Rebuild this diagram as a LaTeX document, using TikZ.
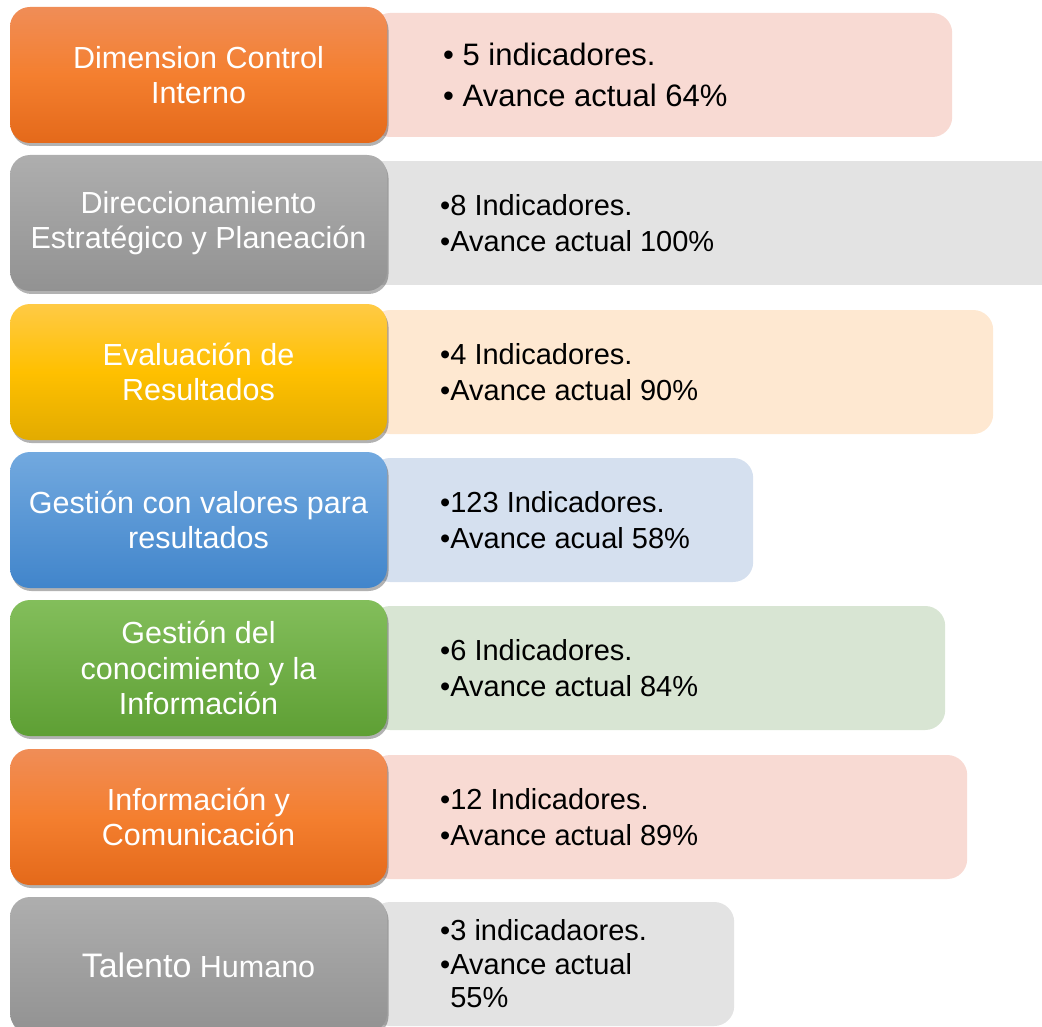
\documentclass[tikz,border=0pt]{standalone}
\usepackage{fontspec}
\setmainfont{Liberation Sans}
\usetikzlibrary{shadows,positioning}

\definecolor{naranjaA}{HTML}{F08D57}
\definecolor{naranjaB}{HTML}{F47F2F}
\definecolor{naranjaC}{HTML}{E4691A}
\definecolor{grisA}{HTML}{AEAEAE}
\definecolor{grisB}{HTML}{929292}
\definecolor{amarilloA}{HTML}{FFCA45}
\definecolor{amarilloB}{HTML}{FFC000}
\definecolor{amarilloC}{HTML}{E2AB00}
\definecolor{azulA}{HTML}{72A9DF}
\definecolor{azulB}{HTML}{4185CB}
\definecolor{verdeA}{HTML}{83BE5B}
\definecolor{verdeB}{HTML}{5E9F34}
\definecolor{rosaF}{HTML}{F8DAD3}
\definecolor{grisF}{HTML}{E3E3E3}
\definecolor{melonF}{HTML}{FEE8D1}
\definecolor{azulF}{HTML}{D5E0EF}
\definecolor{verdeF}{HTML}{D8E5D3}

\tikzset{
    dimension/.style={rounded corners=20pt, minimum width=377pt, minimum height=136pt,
        text=white, align=center, font=\fontsize{30.5}{35.5}\selectfont,
        drop shadow={shadow xshift=1.5pt, shadow yshift=-3pt, opacity=0.3, fill=black}},
    detalle/.style={rounded corners=20pt, minimum height=124pt, anchor=west},
    textodet/.style={anchor=west, inner sep=0pt, align=left, font=\fontsize{29}{36.5}\selectfont},
}

\begin{document}
\begin{tikzpicture}[x=1pt, y=-1pt]
        \useasboundingbox ( 0, 0 ) rectangle ( 1042, 1027 );
        \clip ( 0, 0 ) rectangle ( 1042, 1027 );

        % fila 1
        \node [ detalle, fill=rosaF, minimum width=582pt ] (info1) at ( 370, 75 ) {};
        \node [ textodet, font=\fontsize{31}{41}\selectfont ] (txt1) at ( 443, 75 ) {\textbullet\ 5 indicadores.\\\textbullet\ Avance actual 64\%};
        \node [ dimension, top color=naranjaA, bottom color=naranjaC, middle color=naranjaB ] (dim1) at ( 198.5, 75 ) {Dimension Control\\Interno};

        % fila 2
        \node [ detalle, fill=grisF, minimum width=700pt, rounded corners=0pt ] (info2) at ( 370, 223 ) {};
        \node [ textodet ] (txt2) at ( 440, 223 ) {\textbullet 8 Indicadores.\\\textbullet Avance actual 100\%};
        \node [ dimension, top color=grisA, bottom color=grisB ] (dim2) at ( 198.5, 223 ) {Direccionamiento\\Estratégico y Planeación};

        % fila 3
        \node [ detalle, fill=melonF, minimum width=623pt ] (info3) at ( 370, 372 ) {};
        \node [ textodet ] (txt3) at ( 440, 372 ) {\textbullet 4 Indicadores.\\\textbullet Avance actual 90\%};
        \node [ dimension, top color=amarilloA, bottom color=amarilloC, middle color=amarilloB ] (dim3) at ( 198.5, 372 ) {Evaluación de\\Resultados};

        % fila 4
        \node [ detalle, fill=azulF, minimum width=383pt ] (info4) at ( 370, 520 ) {};
        \node [ textodet ] (txt4) at ( 440, 520 ) {\textbullet 123 Indicadores.\\\textbullet Avance acual 58\%};
        \node [ dimension, top color=azulA, bottom color=azulB ] (dim4) at ( 198.5, 520 ) {Gestión con valores para\\resultados};

        % fila 5
        \node [ detalle, fill=verdeF, minimum width=575pt ] (info5) at ( 370, 668 ) {};
        \node [ textodet ] (txt5) at ( 440, 668 ) {\textbullet 6 Indicadores.\\\textbullet Avance actual 84\%};
        \node [ dimension, top color=verdeA, bottom color=verdeB ] (dim5) at ( 198.5, 668 ) {Gestión del\\conocimiento y la\\Información};

        % fila 6
        \node [ detalle, fill=rosaF, minimum width=597pt ] (info6) at ( 370, 817 ) {};
        \node [ textodet ] (txt6) at ( 440, 817 ) {\textbullet 12 Indicadores.\\\textbullet Avance actual 89\%};
        \node [ dimension, top color=naranjaA, bottom color=naranjaC, middle color=naranjaB ] (dim6) at ( 198.5, 817 ) {Información y\\Comunicación};

        % fila 7
        \node [ detalle, fill=grisF, minimum width=364pt ] (info7) at ( 370, 964 ) {};
        \node [ textodet, font=\fontsize{29}{33.5}\selectfont ] (txt7) at ( 440, 964 ) {\textbullet 3 indicadaores.\\\textbullet Avance actual\\\phantom{\textbullet}55\%};
        \node [ dimension, top color=grisA, bottom color=grisB ] (dim7) at ( 198.5, 965 ) {{\fontsize{34}{40}\selectfont Talento} Humano};
\end{tikzpicture}
\end{document}
